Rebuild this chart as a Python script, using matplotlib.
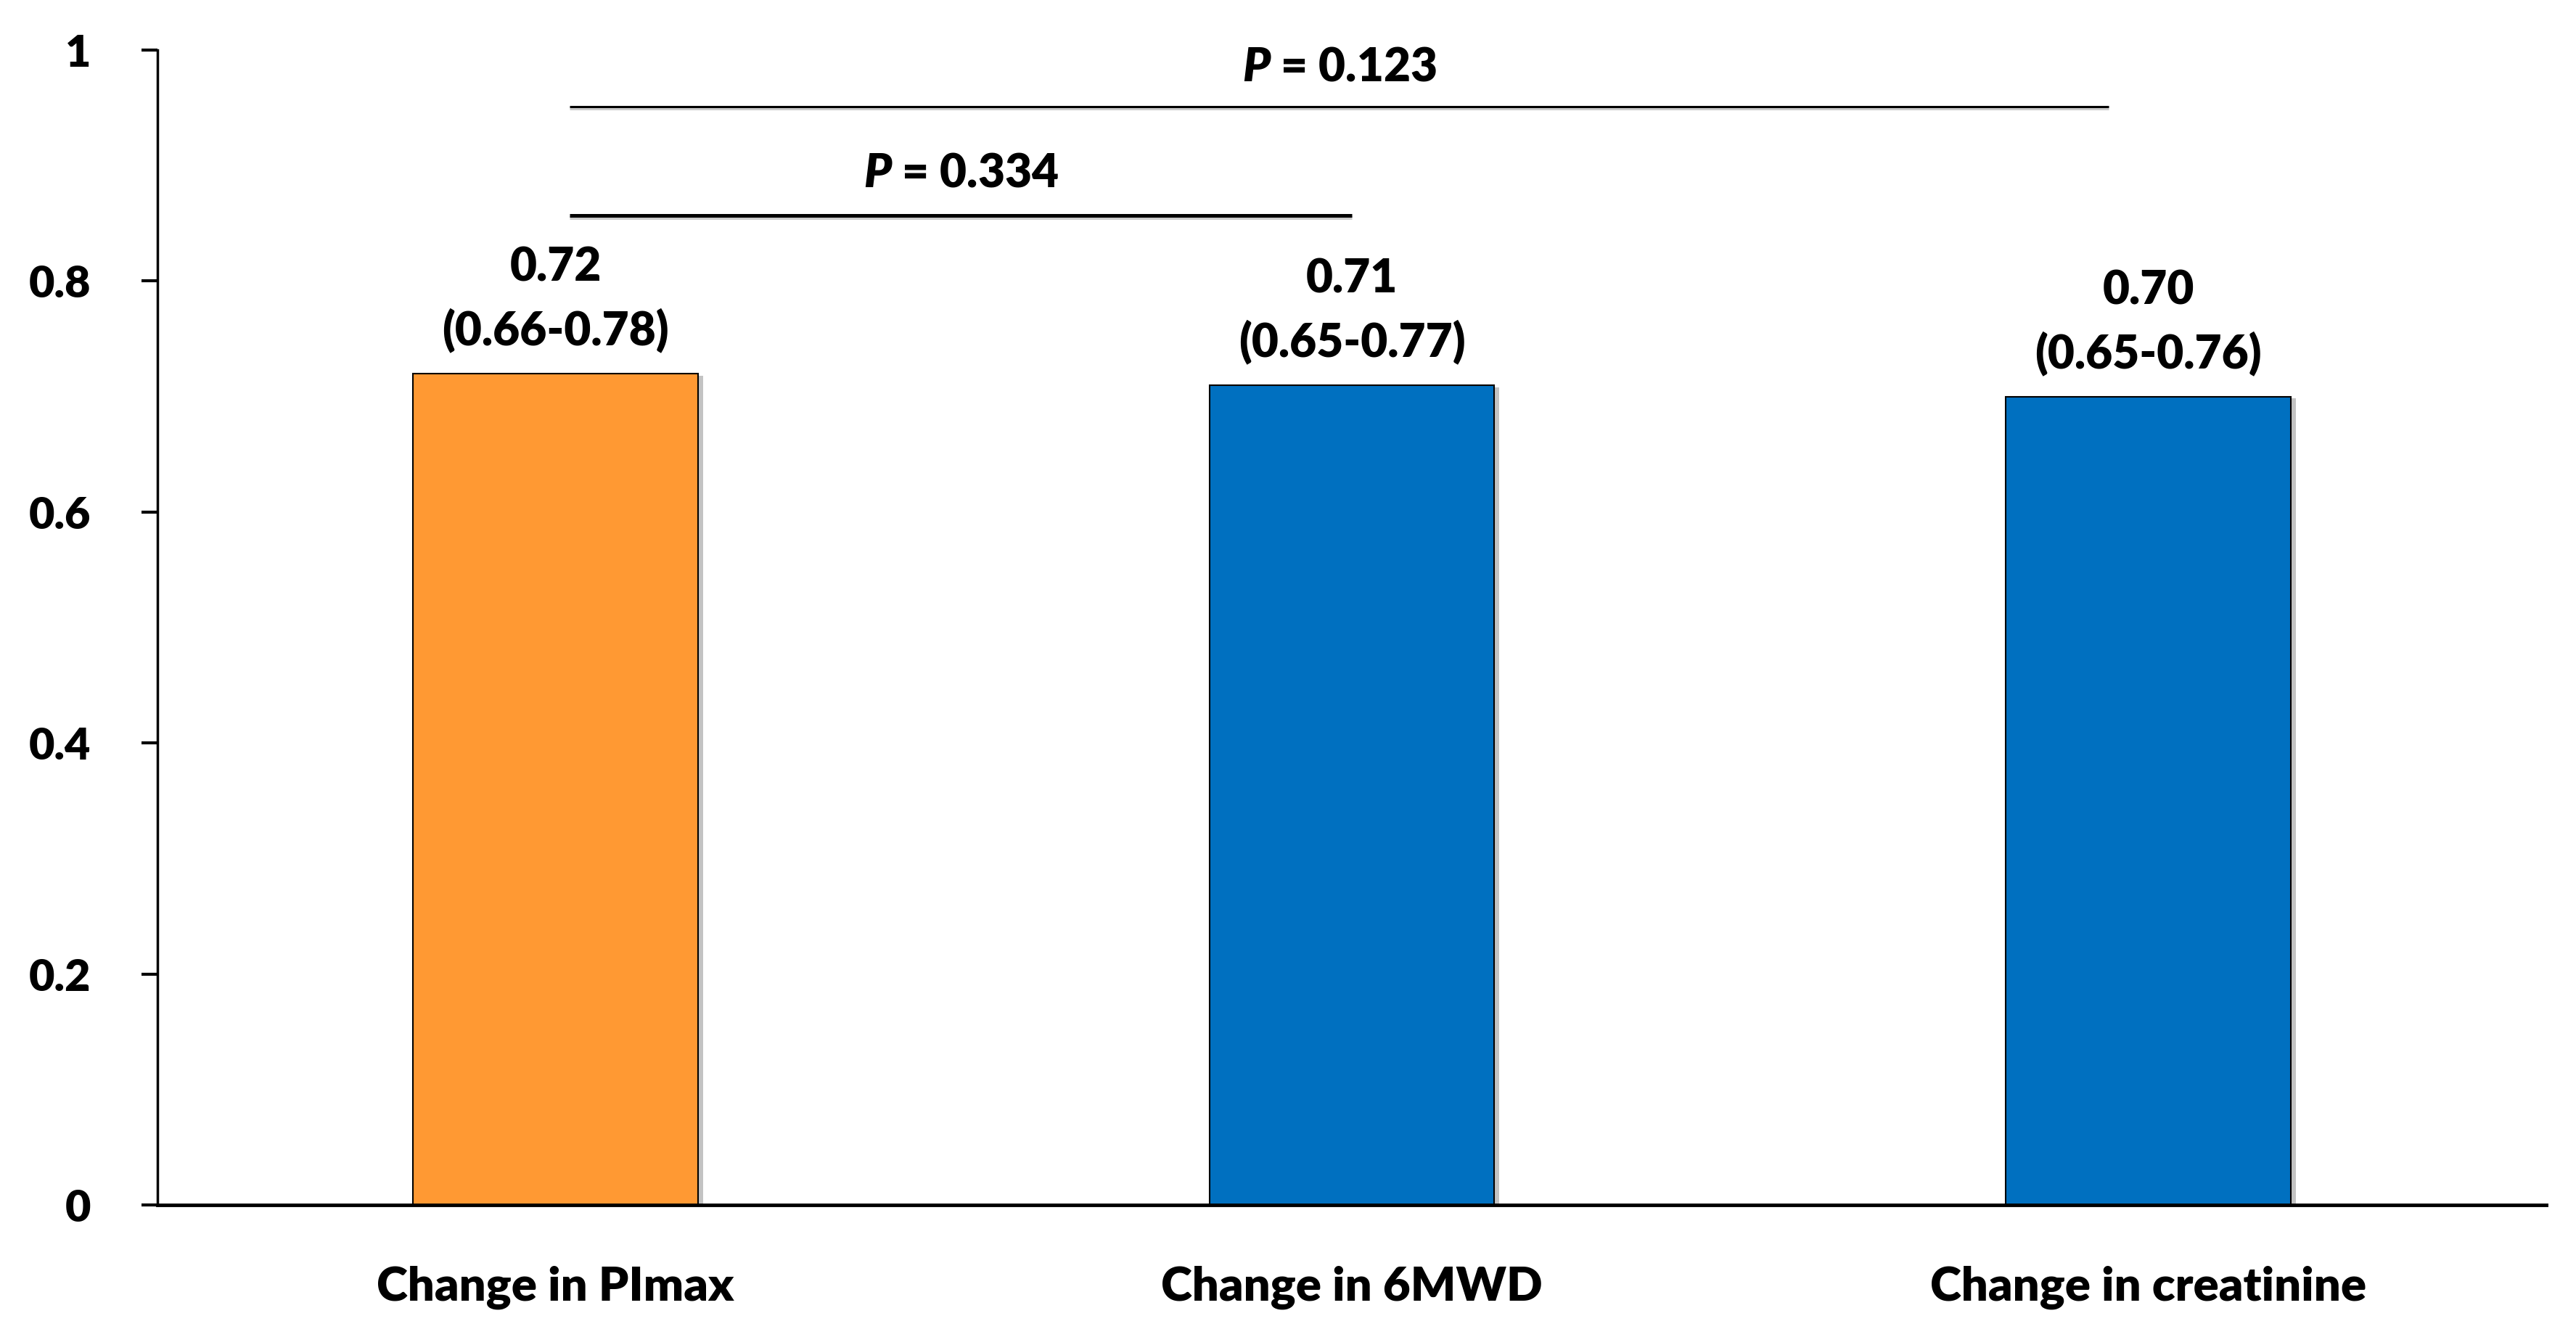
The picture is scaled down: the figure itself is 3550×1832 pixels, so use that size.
import matplotlib
matplotlib.use("Agg")
import matplotlib.pyplot as plt
import matplotlib.patheffects as pe

categories = ["Change in PImax", "Change in 6MWD", "Change in creatinine"]
values = [0.72, 0.71, 0.70]
ci_labels = ["(0.66-0.78)", "(0.65-0.77)", "(0.65-0.76)"]
value_labels = ["0.72", "0.71", "0.70"]
bar_colors = ["#FF9933", "#0070C0", "#0070C0"]
y_ticks = [0, 0.2, 0.4, 0.6, 0.8, 1]
y_tick_labels = ["0", "0.2", "0.4", "0.6", "0.8", "1"]
comparisons = [  # (from index, to index, P text)
    (0, 1, "0.334"),
    (0, 2, "0.123"),
]

plt.rcParams['font.family'] = ['Lato', 'DejaVu Sans']
plt.rcParams['mathtext.fontset'] = 'custom'
plt.rcParams['mathtext.it'] = 'Lato:italic:heavy'
plt.rcParams['mathtext.rm'] = 'Lato:heavy'
plt.rcParams['mathtext.bf'] = 'Lato:heavy'

W = 'heavy'
fig = plt.figure(figsize=(35.5, 18.32), dpi=100)
ax = fig.add_axes([0.0611, 0.0933, 0.9274, 0.869])

x = list(range(len(categories)))
shadow = [pe.SimplePatchShadow(offset=(5, -2), shadow_rgbFace='#888888', alpha=0.5), pe.Normal()]
bars = ax.bar(x, values, width=0.358, color=bar_colors, edgecolor='black', linewidth=1.5, zorder=3)
for b in bars:
    b.set_path_effects(shadow)

fs = 46
for xi, v, vl, cl in zip(x, values, value_labels, ci_labels):
    ax.annotate(vl, (xi, v), xytext=(0, 105), textcoords='offset points',
                ha='center', va='center', fontsize=fs, fontweight=W)
    ax.annotate(cl, (xi, v), xytext=(0, 43), textcoords='offset points',
                ha='center', va='center', fontsize=fs, fontweight=W)

# significance lines
line_y = [0.857, 0.951]
line_w = [3.6, 2.2]
line_end = [1.0, 1.95]
text_y = [0.893, 0.985]
for (i0, i1, ptxt), ly, lw, le, ty in zip(comparisons, line_y, line_w, line_end, text_y):
    x0 = x[i0] + 0.018
    x1 = le
    ax.plot([x0, x1], [ly, ly], color='black', lw=lw, solid_capstyle='butt', zorder=4,
            path_effects=[pe.SimpleLineShadow(offset=(0, -2), shadow_color='#999999', alpha=0.5), pe.Normal()])
    ax.text((x0 + x1) / 2, ty, r"$\it{P}$" + " = " + ptxt, ha='center', va='center',
            fontsize=fs, fontweight=W)

ax.set_xlim(-0.5, 2.5)
ax.set_ylim(0, 1)
ax.set_yticks(y_ticks)
ax.set_yticklabels(y_tick_labels, fontsize=44, fontweight=W)
ax.set_xticks(x)
ax.set_xticklabels(categories, fontsize=47, fontweight=W)
ax.tick_params(axis='x', length=0, pad=60)
ax.tick_params(axis='y', length=16, width=3, direction='out', pad=50)

for s in ['top', 'right']:
    ax.spines[s].set_visible(False)
ax.spines['left'].set_linewidth(2.5)
ax.spines['bottom'].set_linewidth(3.5)
ax.spines['bottom'].set_zorder(5)

fig.savefig("out.png", dpi=100, facecolor='white')
